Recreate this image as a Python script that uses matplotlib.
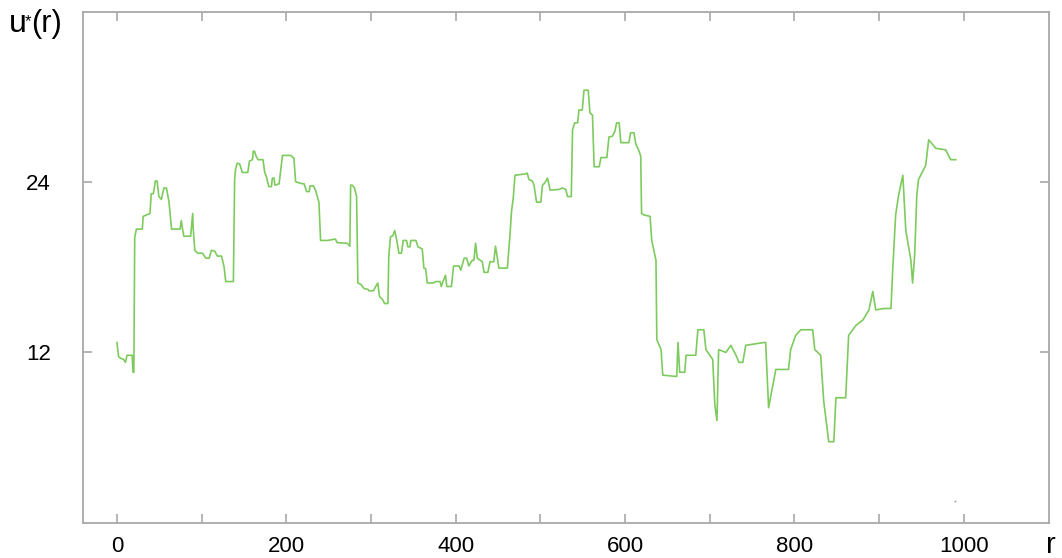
import matplotlib
matplotlib.use("Agg")
import matplotlib.pyplot as plt

# u*(r) traced as (r, value) vertices of the step-like walk
r = [0, 2, 4, 8, 10, 12, 18, 19, 20, 21, 23, 30, 31, 39, 40.5, 43, 45.5, 47.5, 49.5, 52.5,
     55.5, 58.5, 61.5, 64.5, 74.5, 76, 77.5, 79, 87, 89.5, 90, 92, 95.5, 101, 105, 109,
     111.5, 115.5, 118.5, 123.5, 126.5, 128.5, 137.5, 139, 140, 142, 145, 148, 154.5, 156.5,
     160, 161, 162.5, 164, 166.5, 172.5, 174.5, 176.5, 178.5, 179.5, 182.5, 183.5, 185.5, 186.5,
     191.5, 195.5, 197, 205, 209, 211, 213, 219, 221, 224, 227, 228, 232, 234.5, 238.5, 240.5,
     248.5, 258, 260, 272, 275, 276, 278, 280.5, 283, 284.5, 288, 292, 296.5, 297.5, 303, 305.5,
     308, 310, 313.5, 316, 320, 321, 323, 326, 328, 330, 332, 333, 336, 338, 342, 343.5,
     346, 347, 353, 355.5, 360.5, 362.5, 364.5, 366.5, 373.5, 376.5, 381.5, 383, 385, 388,
     389.5, 395, 397.5, 404, 406, 410, 413, 415.5, 419.5, 421.5, 423.5, 425.5, 431.5, 433.5,
     438, 440.5, 445, 447, 449, 451, 461, 464, 466, 468, 470, 476.5, 482.5, 484.5, 486.5,
     490.5, 492.5, 495.5, 500.5, 502.5, 505, 508.5, 511.5, 522, 526, 530, 532, 536.5, 538,
     540.5, 544, 545.5, 549.5, 551.5, 556.5, 558.5, 561.5, 563.5, 569.5, 571.5, 578.5, 581, 585,
     588, 590, 593, 595, 604.5, 606.5, 610.5, 612.5, 616.5, 618.5, 619.5, 622.5, 629.5, 631.5,
     636.5, 637.5, 642.5, 644.5, 661, 662.5, 664.5, 670.5, 672, 683.5, 686, 693, 695.5, 703.5,
     706, 708.5, 710.5, 719, 725, 731, 734.5, 739, 742.5, 764, 766, 769.5, 778, 793, 795.5,
     801.5, 807.5, 821.5, 824, 831, 834.5, 838, 840.5, 846.5, 849, 860.5, 864, 872.5, 881,
     888, 892.5, 896, 905.5, 914, 916, 919.5, 923, 928, 931.5, 937.5, 939.5, 942, 944.5,
     946.5, 955, 958.5, 967, 978.5, 984.5, 990.5]
u = [12.7, 11.7, 11.6, 11.5, 11.3, 11.8, 11.8, 10.6, 10.6, 20.1, 20.7, 20.7, 21.6, 21.8, 23.2, 23.2, 24.1, 24.1, 23.0, 22.8,
     23.6, 23.6, 22.6, 20.7, 20.7, 21.3, 20.7, 20.2, 20.2, 21.8, 20.8, 19.2, 19.0, 19.0, 18.65, 18.65,
     19.2, 19.15, 18.8, 18.8, 18.05, 17.0, 17.0, 24.2, 24.9, 25.35, 25.3, 24.7, 24.7, 25.5,
     25.6, 26.2, 26.2, 25.9, 25.6, 25.6, 24.7, 24.4, 23.9, 23.7, 23.7, 24.3, 24.3, 23.8,
     23.9, 25.9, 25.9, 25.9, 25.7, 24.05, 24.0, 23.9, 23.9, 23.35, 23.35, 23.75, 23.75, 23.45, 22.6, 19.9,
     19.9, 20.0, 19.75, 19.7, 19.5, 23.8, 23.8, 23.6, 23.0, 16.9, 16.8, 16.5, 16.45, 16.35, 16.35, 16.65,
     16.9, 15.95, 15.75, 15.45, 15.45, 18.8, 20.15, 20.25, 20.6, 20.05, 19.35, 19.0, 19.0, 19.9, 19.9, 19.45,
     19.45, 19.9, 19.9, 19.45, 19.3, 17.95, 17.9, 16.9, 16.9, 17.0, 17.0, 16.65, 17.0, 17.45,
     16.65, 16.65, 18.1, 18.1, 17.8, 18.65, 18.65, 18.1, 18.5, 18.5, 19.7, 18.65, 18.4, 17.65,
     17.65, 18.4, 18.4, 19.5, 18.75, 17.95, 17.95, 20.2, 22.0, 22.9, 24.5, 24.55, 24.6, 24.65, 24.2,
     24.1, 23.8, 22.6, 22.6, 23.8, 23.95, 24.3, 23.45, 23.5, 23.6, 23.5, 23.0, 23.0, 27.7,
     28.2, 28.2, 29.1, 29.1, 30.5, 30.5, 28.9, 28.75, 25.1, 25.1, 25.75, 25.75, 27.2, 27.25,
     27.6, 28.2, 28.2, 26.8, 26.8, 27.5, 27.5, 26.75, 26.2, 25.85, 21.8, 21.7, 21.6, 19.9,
     18.5, 12.9, 12.2, 10.4, 10.3, 12.7, 10.6, 10.6, 11.8, 11.8, 13.6, 13.6, 12.2, 11.5,
     8.3, 7.2, 12.2, 12.0, 12.5, 11.8, 11.3, 11.3, 12.5, 12.7, 12.7, 8.1, 10.8, 10.8, 12.2,
     13.2, 13.6, 13.6, 12.2, 11.8, 8.6, 6.9, 5.7, 5.7, 8.8, 8.8, 13.2, 13.9, 14.3,
     15.0, 16.3, 15.0, 15.1, 15.1, 17.8, 21.7, 23.1, 24.5, 20.6, 18.5, 16.9, 18.9, 23.1,
     24.2, 25.2, 27.0, 26.4, 26.3, 25.6, 25.6]

# lone point near the bottom right
dot_r = [990]
dot_u = [1.5]

xticks = [0, 100, 200, 300, 400, 500, 600, 700, 800, 900, 1000]
xlabels = ['0', '', '200', '', '400', '', '600', '', '800', '', '1000']
yticks = [12, 24]

plt.rcParams['font.family'] = ['Liberation Sans', 'DejaVu Sans']

fig = plt.figure(figsize=(10.62, 5.58), dpi=100)
ax = fig.add_axes([0.0782, 0.0636, 0.9091, 0.9144])

ax.plot(r, u, color='#7dcb5e', lw=1.2)
ax.plot(dot_r, dot_u, ls='none', marker='s', ms=1.2, color='#999999', mec='none')

ax.set_xlim(-40, 1100)
ax.set_ylim(0, 36)
ax.set_xticks(xticks)
ax.set_xticklabels(xlabels)
ax.set_yticks(yticks)
ax.set_yticklabels([str(v) for v in yticks])

for s in ax.spines.values():
    s.set_color('#a8a8a8')
    s.set_linewidth(1.3)
ax.tick_params(direction='in', length=6.5, width=1.2, color='#a8a8a8',
               top=True, right=True, labelsize=16, labelcolor='black')
ax.tick_params(axis='x', pad=10)
ax.tick_params(axis='y', pad=23)

# axis names sit outside the frame corners
fig.text(0.008, 0.943, 'u', fontsize=23, va='baseline')
fig.text(0.0235, 0.953, '*', fontsize=12, va='baseline')
fig.text(0.0295, 0.943, '(r)', fontsize=22, va='baseline')
fig.text(0.985, 0.009, 'r', fontsize=21, va='baseline')

fig.savefig('out.png', dpi=100)
